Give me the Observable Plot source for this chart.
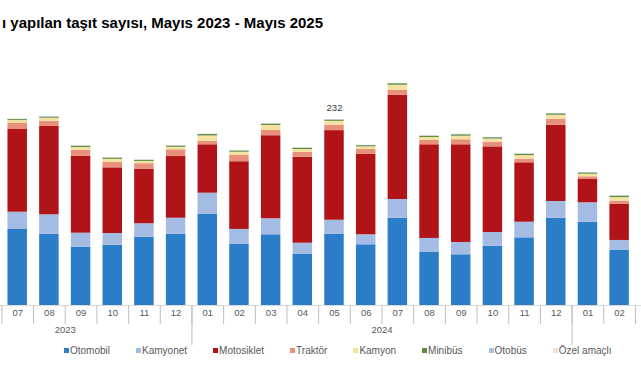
<!DOCTYPE html>
<html><head><meta charset="utf-8">
<script src="https://cdn.jsdelivr.net/npm/d3@7"></script>
<script src="https://cdn.jsdelivr.net/npm/@observablehq/plot@0.6"></script>
<style>
html,body{margin:0;padding:0;background:#fff;width:641px;height:380px;overflow:hidden;position:relative;font-family:"Liberation Sans",Arial,sans-serif;}
#title{position:absolute;left:2px;top:14px;font-weight:bold;font-size:15px;color:#000;white-space:nowrap;}
#chart{position:absolute;left:-62.2px;top:40px;width:792px;}
#chart svg{max-width:none !important;}
#legend{position:absolute;left:64px;top:345px;display:flex;font-size:10px;color:#595959;white-space:nowrap;}
.item{display:flex;align-items:center;margin-right:26px}
.sw{width:5px;height:5px;margin-right:1px}
</style></head><body>
<div id="title">ı yapılan taşıt sayısı, Mayıs 2023 - Mayıs 2025</div>
<div id="chart"></div>
<div id="legend"></div>
<script>
// Periods (Mayıs 2023 - Mayıs 2025); the view is cropped to 07/2023 - 03/2025
const periods = ["2023-05","2023-06","2023-07","2023-08","2023-09","2023-10","2023-11","2023-12",
  "2024-01","2024-02","2024-03","2024-04","2024-05","2024-06","2024-07","2024-08","2024-09","2024-10","2024-11","2024-12",
  "2025-01","2025-02","2025-03","2025-04","2025-05"];
// tick labels visible in the cropped view
const monthTickPeriods = ["2023-07","2023-08","2023-09","2023-10","2023-11","2023-12",
  "2024-01","2024-02","2024-03","2024-04","2024-05","2024-06","2024-07","2024-08","2024-09","2024-10","2024-11","2024-12",
  "2025-01","2025-02"];
const yearTickLabels = ["2023","2024"];
const seriesNames = ["Otomobil","Kamyonet","Motosiklet","Traktör","Kamyon","Minibüs","Otobüs","Özel amaçlı"];
const seriesColors = ["#2A7DC6","#A4BCE4","#B01318","#E8917A","#F5E2A2","#5F8C40","#A6C3DC","#F2DEDC"];
// values in thousands; null = outside the visible crop
const otomobil   = [null,null,95.0,89.1,72.9,75.4,85.4,89.1,113.8,76.3,88.4,63.8,89.1,75.9,109.1,66.3,63.4,74.1,84.6,109.1,104.1,68.8,93.8,null,null];
const kamyonet   = [null,null,21.6,24.3,17.5,14.6,16.8,20.0,26.6,18.8,20.0,14.1,17.5,12.5,23.4,17.5,15.4,17.1,19.5,20.9,24.3,12.5,21.0,null,null];
const motosiklet = [null,null,103.4,110.4,96.3,82.1,68.3,77.1,60.5,84.6,103.8,107.5,112.0,100.4,130.4,117.1,122.1,107.1,74.3,95.4,29.1,45.0,70.4,null,null];
const traktor    = [null,null,7.9,6.6,7.1,6.6,6.8,8.4,4.1,7.9,6.6,5.9,6.8,6.3,5.9,5.4,6.3,5.8,4.5,7.1,3.4,4.1,7.1,null,null];
const kamyon     = [null,null,3.3,3.7,3.7,4.0,2.8,3.2,6.9,4.0,6.2,3.7,4.8,3.2,6.5,3.7,4.4,4.0,4.5,5.3,3.2,4.5,1.5,null,null];
const minibus    = [null,null,1.2,1.5,1.6,1.6,1.4,1.6,1.8,1.6,1.7,1.6,1.6,1.5,1.9,1.6,1.8,1.6,1.7,1.8,1.6,1.8,1.4,null,null];
const otobus     = [null,null,0.3,0.3,0.3,0.3,0.3,0.3,0.3,0.3,0.3,0.3,0.3,0.3,0.3,0.3,0.3,0.3,0.3,0.3,0.3,0.3,0.3,null,null];
const ozel       = [null,null,0.4,0.3,0.3,0.3,0.3,0.3,0.3,0.3,0.3,0.3,0.3,0.3,0.3,0.3,0.3,0.3,0.3,0.3,0.3,0.3,0.3,null,null];
const seriesValues = [otomobil,kamyonet,motosiklet,traktor,kamyon,minibus,otobus,ozel];
const labelledPeriods = ["2024-05"];

const rows = [];
periods.forEach((p,i)=>seriesNames.forEach((s,k)=>{
  const v = seriesValues[k][i];
  if (v != null) rows.push({i, period:p, type:s, value:v});
}));
const totals = periods.map((p,i)=>({i, period:p, total:d3.sum(seriesValues, a=>a[i] ?? 0)}))
  .filter(d=>labelledPeriods.includes(d.period));

const yearOf = p => p.slice(0,4);
const monthOf = p => p.slice(5);
const boundaries = d3.range(periods.length + 1);
const yearBoundaries = boundaries.filter(i => i === 0 || i === periods.length || yearOf(periods[i]) !== yearOf(periods[i-1]));
const yearCenters = yearTickLabels.map(y => {
  const idx = periods.map((p,i)=>[p,i]).filter(([p])=>yearOf(p)===y).map(([,i])=>i);
  return {y, c:(d3.min(idx) + d3.max(idx) + 1)/2};
});
const yearByCenter = new Map(yearCenters.map(d=>[d.c,d.y]));

const chart = Plot.plot({
  width: 792, height: 310,
  marginLeft: 0, marginRight: 0, marginTop: 25, marginBottom: 45,
  x: {domain: [0, periods.length], axis: null, label: null},
  y: {domain: [0, 300], axis: null, label: null},
  color: {domain: seriesNames, range: seriesColors},
  style: {fontFamily: "'Liberation Sans', Arial, sans-serif", overflow: "visible", background: "transparent", maxWidth: "none"},
  marks: [
    Plot.rectY(rows, Plot.stackY({x: "i", interval: 1, y: "value", fill: "type", order: seriesNames, insetLeft: 6.1, insetRight: 6.1})),
    Plot.ruleY([0], {stroke: "#d9d9d9"}),
    Plot.axisX({ticks: boundaries, tickSize: 19, tickFormat: () => "", stroke: "#bfbfbf", label: null}),
    Plot.axisX({ticks: yearBoundaries, tickSize: 40, tickFormat: () => "", stroke: "#bfbfbf", label: null}),
    Plot.axisX({ticks: monthTickPeriods.map(p => periods.indexOf(p) + 0.5), tickSize: 0, tickPadding: 4, fontSize: 9.5, fill: "#595959", label: null,
      tickFormat: d => monthOf(periods[Math.floor(d)])}),
    Plot.axisX({ticks: yearCenters.map(d=>d.c), tickSize: 0, tickPadding: 21, fontSize: 9.5, fill: "#595959", label: null,
      tickFormat: d => yearByCenter.get(d)}),
    Plot.text(totals, {x: d => d.i + 0.5, y: "total", text: d => String(Math.round(d.total)), dy: -12, fontSize: 9.5, fill: "#404040"})
  ]
});
document.getElementById("chart").appendChild(chart);

const legend = document.getElementById("legend");
seriesNames.forEach((s,k)=>{
  const it = document.createElement("div"); it.className = "item";
  const sw = document.createElement("span"); sw.className = "sw"; sw.style.background = seriesColors[k];
  const tx = document.createElement("span"); tx.textContent = s;
  it.appendChild(sw); it.appendChild(tx); legend.appendChild(it);
});
</script>
</body></html>
